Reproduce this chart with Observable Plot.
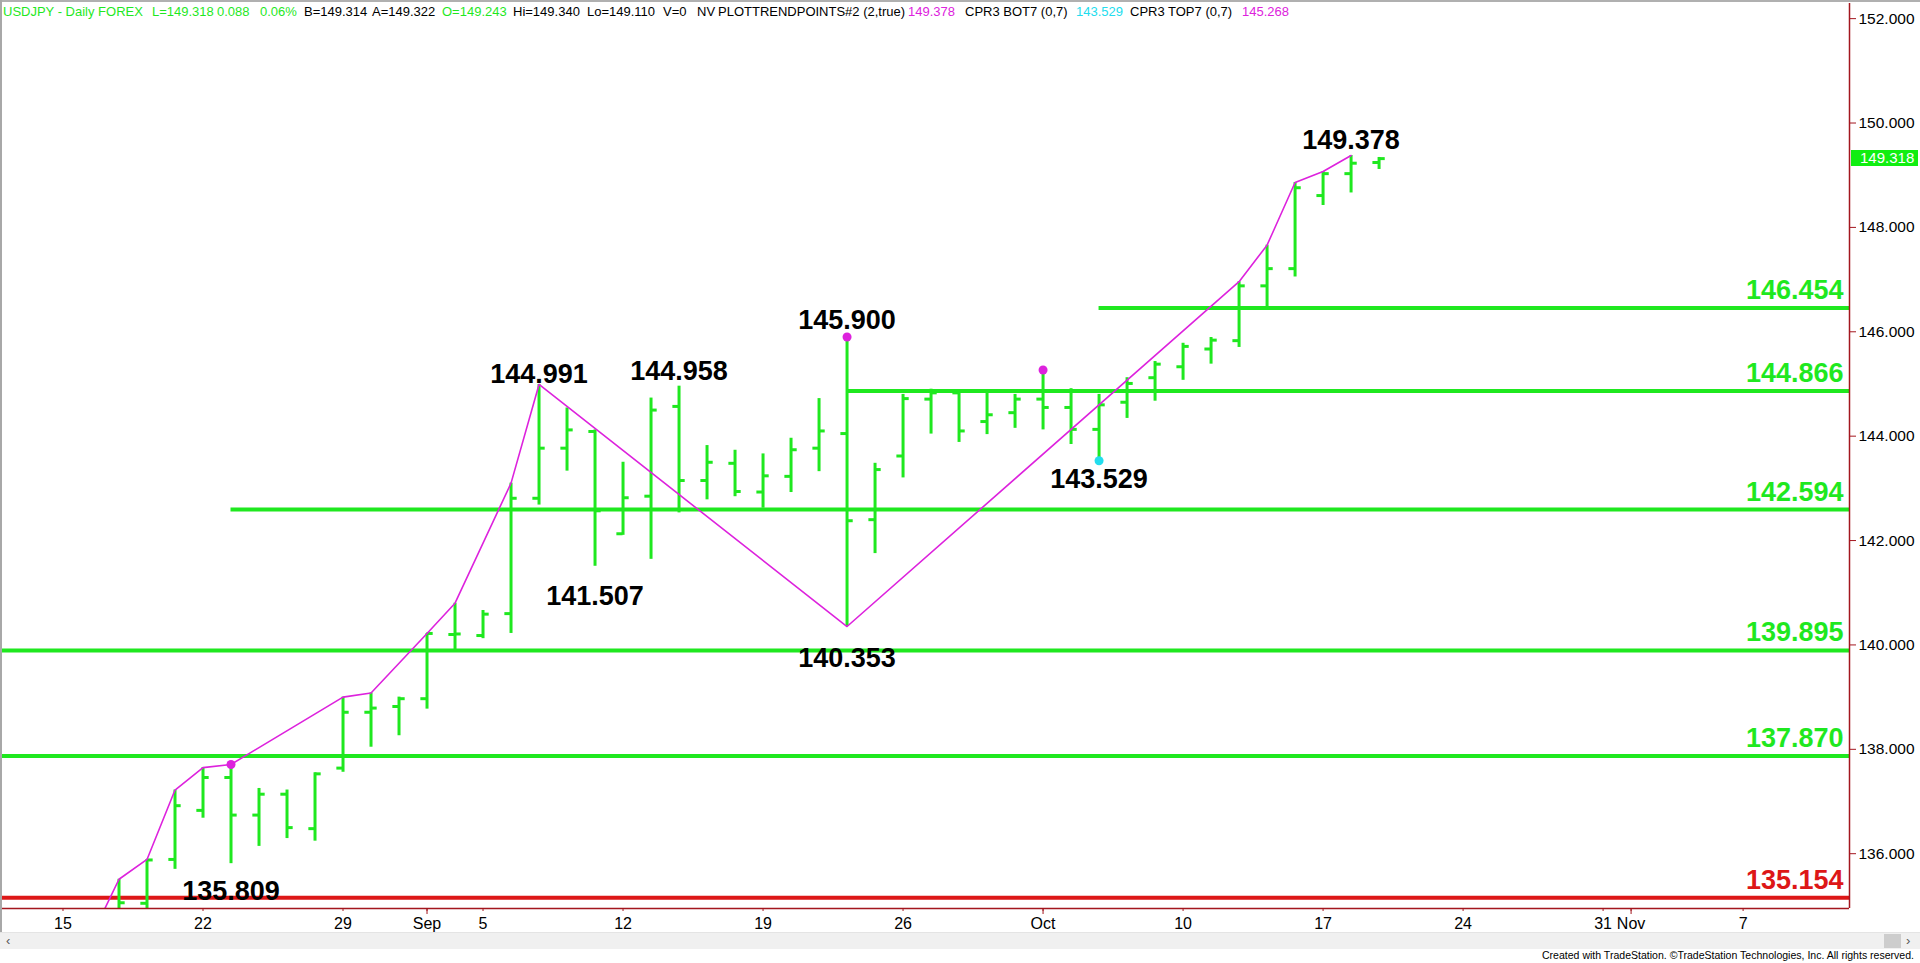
<!DOCTYPE html>
<html>
<head>
<meta charset="utf-8">
<script src="https://cdn.jsdelivr.net/npm/d3@7"></script>
<script src="https://cdn.jsdelivr.net/npm/@observablehq/plot@0.6"></script>
<style>
html,body{margin:0;padding:0;background:#fff;overflow:hidden;}
#wrap{position:relative;width:1920px;height:963px;font-family:"Liberation Sans",Arial,sans-serif;background:#fff;}
#chart{position:absolute;left:0;top:0;}
#header{position:absolute;left:0;top:0;width:1500px;height:20px;font-size:13px;line-height:13px;}
#header span{position:absolute;top:5px;white-space:nowrap;}
#lastbox{position:absolute;left:1851px;width:67px;height:16px;background:#11ee11;color:#fff;font-size:15px;line-height:16px;text-indent:9px;}
#scroll{position:absolute;left:0;top:932px;width:1920px;height:16px;background:#f0f0f0;border-top:1px solid #e4e4e4;}
#thumb{position:absolute;left:1884px;top:1px;width:17px;height:14px;background:#cdcdcd;}
#footer{position:absolute;left:1542px;top:949px;font-size:11px;line-height:12px;color:#000;white-space:nowrap;}
#lborder{position:absolute;left:0;top:0;width:2px;height:948px;background:#a8a8a8;}
#tborder{position:absolute;left:0;top:0;width:1920px;height:2px;background:#b0b0b0;}
</style>
</head>
<body>
<div id="wrap">
  <div id="chart"></div>
  <div id="tborder"></div>
  <div id="lborder"></div>
  <div id="header"></div>
  <div id="lastbox"></div>
  <div id="scroll"><span style="position:absolute;left:6px;top:0px;font-size:13px;color:#555;">&lsaquo;</span><div id="thumb"></div><span style="position:absolute;left:1906px;top:0px;font-size:13px;color:#555;">&rsaquo;</span></div>
  <div id="footer"></div>
</div>
<script>
// ---------------- DATA ----------------
const dates = ["2022-08-17","2022-08-18","2022-08-19","2022-08-22","2022-08-23","2022-08-24","2022-08-25","2022-08-26","2022-08-29","2022-08-30","2022-08-31","2022-09-01","2022-09-02","2022-09-05","2022-09-06","2022-09-07","2022-09-08","2022-09-09","2022-09-12","2022-09-13","2022-09-14","2022-09-15","2022-09-16","2022-09-19","2022-09-20","2022-09-21","2022-09-22","2022-09-23","2022-09-26","2022-09-27","2022-09-28","2022-09-29","2022-09-30","2022-10-03","2022-10-04","2022-10-05","2022-10-06","2022-10-07","2022-10-10","2022-10-11","2022-10-12","2022-10-13","2022-10-14","2022-10-17","2022-10-18","2022-10-19"];
const open  = [134.60,135.05,135.89,136.83,137.46,136.74,137.14,136.48,137.64,138.71,138.82,138.97,140.20,140.18,140.60,142.81,143.77,144.09,142.13,142.85,144.57,143.15,143.48,142.93,143.23,143.77,144.05,142.40,143.62,144.71,144.83,144.28,144.45,144.71,144.55,144.13,144.65,145.12,145.33,145.67,145.83,146.88,147.21,148.61,149.03,149.243];
const high  = [135.51,135.89,137.22,137.65,137.71,137.25,137.22,137.55,139.00,139.08,139.00,140.22,140.80,140.66,143.10,144.991,144.54,144.12,143.50,144.73,144.958,143.82,143.73,143.66,143.96,144.72,145.900,143.48,144.80,144.90,144.87,144.82,144.80,145.268,144.91,144.80,145.12,145.43,145.78,145.89,146.96,147.66,148.86,149.07,149.378,149.340];
const low   = [134.40,134.70,135.70,136.68,135.809,136.14,136.29,136.24,137.56,138.04,138.26,138.77,139.86,140.12,140.22,142.68,143.33,141.507,142.10,141.64,142.53,142.78,142.84,142.62,142.92,143.32,140.353,141.75,143.20,144.04,143.88,144.03,144.15,144.12,143.84,143.529,144.34,144.67,145.07,145.38,145.70,146.45,147.05,148.42,148.66,149.110];
const close = [135.06,135.88,136.92,137.46,136.74,137.14,136.50,137.53,138.71,138.79,138.97,140.22,140.21,140.59,142.81,143.77,144.12,142.57,142.82,144.50,143.15,143.50,142.94,143.24,143.74,144.10,142.38,143.36,144.72,144.83,144.10,144.41,144.71,144.55,144.13,144.60,145.01,145.38,145.72,145.84,146.88,147.21,148.76,149.03,149.23,149.318];

const trendDates  = ["2022-08-16","2022-08-17","2022-08-18","2022-08-19","2022-08-22","2022-08-23","2022-08-29","2022-08-30","2022-09-01","2022-09-02","2022-09-06","2022-09-07","2022-09-22","2022-10-12","2022-10-13","2022-10-14","2022-10-17","2022-10-18"];
const trendValues = [134.40,135.51,135.89,137.22,137.65,137.71,139.00,139.08,140.22,140.80,143.10,144.991,140.353,146.96,147.66,148.86,149.07,149.378];

const levelValues = [146.454,144.866,142.594,139.895,137.870];
const levelStarts = ["2022-10-05","2022-09-22","2022-08-23",null,null];
const supportValue = 135.154;

const pivotDates  = ["2022-08-23","2022-09-07","2022-09-09","2022-09-14","2022-09-22","2022-09-22","2022-10-05","2022-10-18"];
const pivotValues = [135.809,144.991,141.507,144.958,145.900,140.353,143.529,149.378];

const topDotDates  = ["2022-08-23","2022-09-22","2022-10-03"];
const topDotValues = [137.71,145.900,145.268];
const botDotDates  = ["2022-10-05"];
const botDotValues = [143.529];

const yTicks = [136,138,140,142,144,146,148,150,152];
const xTickDates  = ["2022-08-15","2022-08-22","2022-08-29","2022-09-01","2022-09-05","2022-09-12","2022-09-19","2022-09-26","2022-10-03","2022-10-10","2022-10-17","2022-10-24","2022-10-31","2022-11-01","2022-11-07"];
const xTickLabels = ["15","22","29","Sep","5","12","19","26","Oct","10","17","24","31","Nov","7"];
const monthTickDates = ["2022-09-01","2022-10-03","2022-11-01"];

const lastPrice = 149.318;

const headerSegments = ["USDJPY - Daily FOREX","L=149.318","0.088","0.06%","B=149.314","A=149.322","O=149.243","Hi=149.340","Lo=149.110","V=0","NV","PLOTTRENDPOINTS#2 (2,true)","149.378","CPR3 BOT7 (0,7)","143.529","CPR3 TOP7 (0,7)","145.268"];
const footerText = "Created with TradeStation. \u00A9TradeStation Technologies, Inc. All rights reserved.";

// ---------------- LAYOUT / STYLE ----------------
const GREEN = "#1fe81f", RED = "#dd1717", MAGENTA = "#dd22dd", CYAN = "#22ddee", AXIS = "#a3161e";
const headerX = [3,152,217,260,304,372,442,513,587,663,697,718,908,965,1076,1130,1242];
const headerColor = [GREEN,GREEN,GREEN,GREEN,"#000","#000",GREEN,"#000","#000","#000","#000","#000",MAGENTA,"#000",CYAN,"#000",MAGENTA];
const pivotDy = [28,-10,30,-15,-16.5,31.6,18.7,-15.4];

// trading-day calendar (weekdays) for x positions
const fmt = d3.utcFormat("%Y-%m-%d");
const calendar = d3.utcDays(new Date("2022-08-01"), new Date("2022-12-01")).filter(d => d.getUTCDay() % 6 !== 0).map(fmt);
const base = calendar.indexOf("2022-08-15");
const idx = s => calendar.indexOf(s) - base;

const xDomain = [-2.232, 63.80];
const yDomain = [134.95, 152.29];

const bars = dates.map((d,k) => ({i: idx(d), open: open[k], high: high[k], low: low[k], close: close[k]}));
const trend = trendDates.map((d,k) => ({i: idx(d), v: trendValues[k]}));
const levels = levelValues.map((v,k) => ({value: v, x1: levelStarts[k] ? idx(levelStarts[k]) : xDomain[0]}));
const support = [{value: supportValue, x1: xDomain[0]}];
const pivots = pivotDates.map((d,k) => ({i: idx(d), v: pivotValues[k]}));
const topDots = topDotDates.map((d,k) => ({i: idx(d), v: topDotValues[k]}));
const botDots = botDotDates.map((d,k) => ({i: idx(d), v: botDotValues[k]}));
const tickIdx = xTickDates.map(idx);
const tickLabel = new Map(tickIdx.map((t,k) => [t, xTickLabels[k]]));
const monthIdx = monthTickDates.map(idx);

const labelFont = {fontSize: 27, fontWeight: "bold"};
const TL = 0.22; // tick length in trading days

const plot = Plot.plot({
  width: 1920, height: 963,
  marginLeft: 0, marginRight: 71, marginTop: 3, marginBottom: 55,
  x: {type: "linear", domain: xDomain, axis: null},
  y: {type: "linear", domain: yDomain, axis: null},
  style: {fontFamily: "'Liberation Sans', Arial, sans-serif", background: "transparent", overflow: "visible"},
  marks: [
    Plot.ruleY(levels, {y: "value", x1: "x1", x2: xDomain[1], stroke: GREEN, strokeWidth: 4}),
    Plot.ruleY(support, {y: "value", x1: "x1", x2: xDomain[1], stroke: RED, strokeWidth: 4}),
    Plot.ruleX(bars, {x: "i", y1: "low", y2: "high", stroke: GREEN, strokeWidth: 3, clip: true}),
    Plot.ruleY(bars, {y: "open", x1: d => d.i - TL, x2: "i", stroke: GREEN, strokeWidth: 3, clip: true}),
    Plot.ruleY(bars, {y: "close", x1: "i", x2: d => d.i + TL, stroke: GREEN, strokeWidth: 3, clip: true}),
    Plot.line(trend, {x: "i", y: "v", stroke: MAGENTA, strokeWidth: 1.6, clip: true}),
    Plot.dot(topDots, {x: "i", y: "v", r: 4.5, fill: MAGENTA, stroke: null}),
    Plot.dot(botDots, {x: "i", y: "v", r: 4.5, fill: CYAN, stroke: null}),
    ...pivots.map((p,k) => Plot.text([p], {x: "i", y: "v", text: d => d.v.toFixed(3), dy: pivotDy[k], lineAnchor: "middle", fill: "#000", ...labelFont})),
    Plot.text(levels, {y: "value", text: d => d.value.toFixed(3), frameAnchor: "right", textAnchor: "end", lineAnchor: "bottom", dx: -6, dy: -9, fill: GREEN, ...labelFont}),
    Plot.text(support, {y: "value", text: d => d.value.toFixed(3), frameAnchor: "right", textAnchor: "end", lineAnchor: "bottom", dx: -6, dy: -9, fill: RED, ...labelFont}),
    Plot.ruleY([yDomain[0]], {x1: xDomain[0], x2: xDomain[1], stroke: AXIS, strokeWidth: 1.5}),
    Plot.ruleX([xDomain[1]], {y1: yDomain[0], y2: yDomain[1], stroke: AXIS, strokeWidth: 1.5}),
    Plot.axisY(yTicks, {anchor: "right", tickFormat: d3.format(".3f"), tickSize: 6, tickPadding: 3, fontSize: 15.5, stroke: AXIS, fill: "#000", textAnchor: "start"}),
    Plot.axisX(tickIdx, {anchor: "bottom", tickFormat: t => tickLabel.get(t), tickSize: 3, tickPadding: 6, fontSize: 16, stroke: AXIS, fill: "#000"}),
    Plot.axisX(monthIdx, {anchor: "bottom", tickFormat: () => "", tickSize: 6, stroke: AXIS})
  ]
});
document.getElementById("chart").appendChild(plot);

// header
const header = document.getElementById("header");
headerSegments.forEach((s,k) => {
  const sp = document.createElement("span");
  sp.textContent = s;
  sp.style.left = headerX[k] + "px";
  sp.style.color = headerColor[k];
  header.appendChild(sp);
});

// last price box, positioned with the plot's y scale
const ys = plot.scale("y");
const lb = document.getElementById("lastbox");
lb.textContent = lastPrice.toFixed(3);
lb.style.top = (ys.apply(lastPrice) - 8) + "px";

// footer
document.getElementById("footer").innerHTML = `<svg width="374" height="13" style="display:block"><text x="0" y="10" font-size="10.5" textLength="372" lengthAdjust="spacingAndGlyphs" font-family="'Liberation Sans',Arial,sans-serif">${footerText}</text></svg>`;
</script>
</body>
</html>
